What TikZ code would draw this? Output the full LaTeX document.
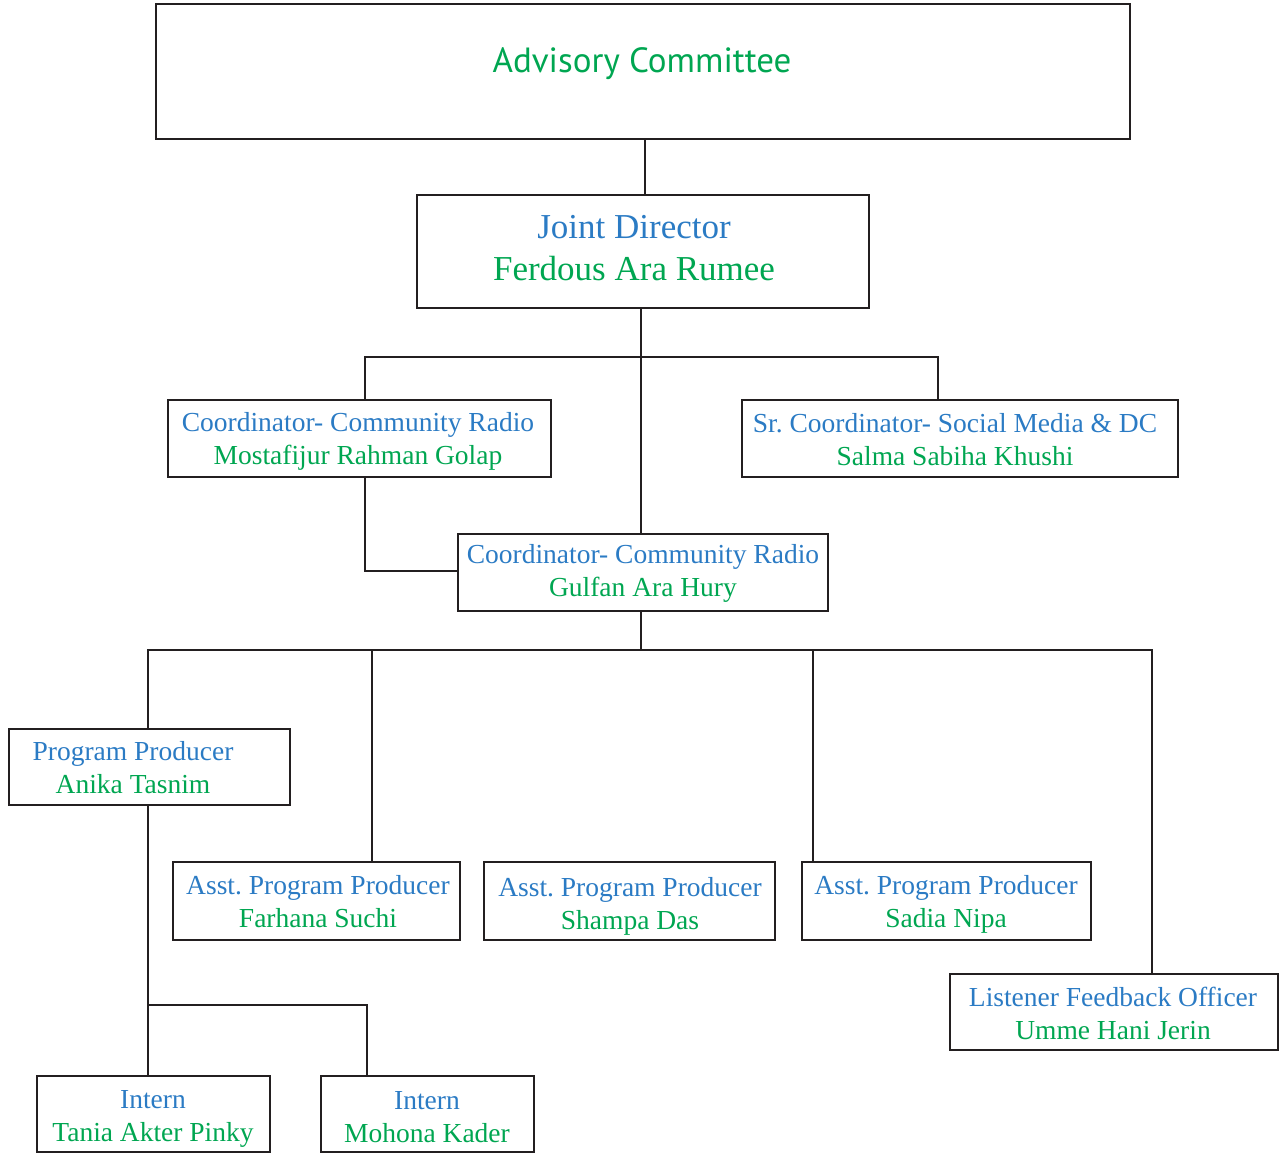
\documentclass[tikz,border=0pt]{standalone}
\usepackage{fontspec}
\setmainfont{Liberation Serif}
\newfontfamily\advfont{PT Sans}
\definecolor{tblue}{HTML}{2B7BC4}
\definecolor{tgreen}{HTML}{00A651}
\definecolor{lgray}{HTML}{231F20}
\frenchspacing
\begin{document}
\begin{tikzpicture}[x=1pt,y=-1pt,
  box/.style={draw=lgray,line width=2.8pt,inner sep=0pt},
  txt/.style={align=center,inner sep=0pt,anchor=base,font=\fontsize{27.5}{33.5}\selectfont},
  conn/.style={draw=lgray,line width=2.8pt}]
\useasboundingbox (0,0) rectangle (1280,1152);
% boxes
\node[box,minimum width=974pt,minimum height=135pt] (adv) at (643,71.5) {};
\node[box,minimum width=452pt,minimum height=113pt] (jd) at (643,251.5) {};
\node[box,minimum width=383pt,minimum height=77pt] (c1) at (359.5,438.5) {};
\node[box,minimum width=436pt,minimum height=77pt] (sr) at (960,438.5) {};
\node[box,minimum width=370pt,minimum height=77pt] (c2) at (643,572.5) {};
\node[box,minimum width=281pt,minimum height=76pt] (pp) at (149.5,767) {};
\node[box,minimum width=287pt,minimum height=78pt] (a1) at (316.5,901) {};
\node[box,minimum width=291pt,minimum height=78pt] (a2) at (629.5,901) {};
\node[box,minimum width=289pt,minimum height=78pt] (a3) at (946.5,901) {};
\node[box,minimum width=328pt,minimum height=76pt] (lf) at (1114,1012) {};
\node[box,minimum width=233pt,minimum height=76pt] (i1) at (153.5,1114) {};
\node[box,minimum width=213pt,minimum height=76pt] (i2) at (427.5,1114) {};
% texts (anchor at baseline of last line)
\node[inner sep=0pt,text=tgreen,font=\advfont\fontsize{35}{40}\selectfont] (advt) at (642,64) {Advisory Committee};
\node[txt,font=\fontsize{35}{42}\selectfont] (jdt) at (634,280) {\textcolor{tblue}{Joint Director}\\\textcolor{tgreen}{Ferdous Ara Rumee}};
\node[txt] (c1t) at (358,464.5) {\textcolor{tblue}{Coordinator- Community Radio}\\\textcolor{tgreen}{Mostafijur Rahman Golap}};
\node[txt] (srt) at (955,465.5) {\textcolor{tblue}{Sr. Coordinator- Social Media \& DC}\\\textcolor{tgreen}{Salma Sabiha Khushi}};
\node[txt] (c2t) at (643,596.5) {\textcolor{tblue}{Coordinator- Community Radio}\\\textcolor{tgreen}{Gulfan Ara Hury}};
\node[txt] (ppt) at (133,793.5) {\textcolor{tblue}{Program Producer}\\\textcolor{tgreen}{Anika Tasnim}};
\node[txt] (a1t) at (318,927.5) {\textcolor{tblue}{Asst. Program Producer}\\\textcolor{tgreen}{Farhana Suchi}};
\node[txt] (a2t) at (630,929.5) {\textcolor{tblue}{Asst. Program Producer}\\\textcolor{tgreen}{Shampa Das}};
\node[txt] (a3t) at (946,927.5) {\textcolor{tblue}{Asst. Program Producer}\\\textcolor{tgreen}{Sadia Nipa}};
\node[txt] (lft) at (1113,1039.5) {\textcolor{tblue}{Listener Feedback Officer}\\\textcolor{tgreen}{Umme Hani Jerin}};
\node[txt] (i1t) at (153,1141.5) {\textcolor{tblue}{Intern}\\\textcolor{tgreen}{Tania Akter Pinky}};
\node[txt] (i2t) at (427,1142.5) {\textcolor{tblue}{Intern}\\\textcolor{tgreen}{Mohona Kader}};
% connectors
\coordinate (b1) at (641,357);
\coordinate (b2) at (641,650);
\coordinate (b3) at (148,1005);
\draw[conn] (adv.south -| 645,0) -- (jd.north -| 645,0);
\draw[conn] (jd.south -| b1) -- (c2.north -| b1);
\draw[conn] (c1.north -| 365,0) |- (b1) -| (sr.north -| 938,0);
\draw[conn] (c1.south -| 365,0) |- (c2.west |- 0,571);
\draw[conn] (c2.south -| b2) -- (b2);
\draw[conn] (pp.north -| b3) |- (b2) -| (lf.north -| 1152,0);
\draw[conn] (a1.north -| 372,0) -- (b2 -| 372,0);
\draw[conn] (a3.north -| 813,0) -- (b2 -| 813,0);
\draw[conn] (pp.south -| b3) -- (i1.north -| b3);
\draw[conn] (b3) -| (i2.north -| 367,0);
\end{tikzpicture}
\end{document}
